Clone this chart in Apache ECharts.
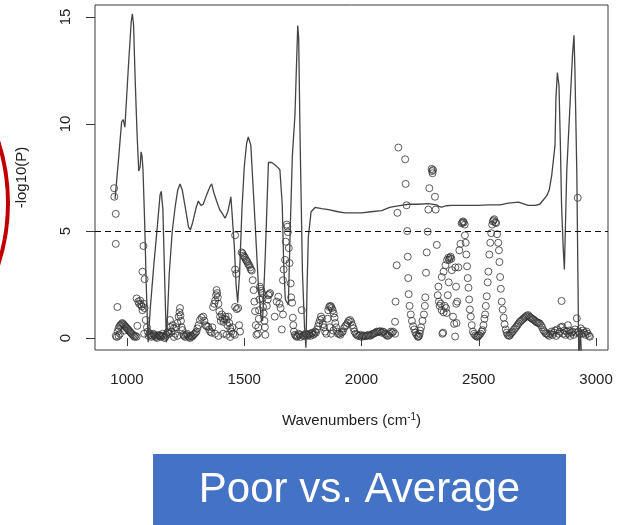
<!DOCTYPE html>
<html>
<head>
<meta charset="utf-8">
<script src="https://cdn.jsdelivr.net/npm/echarts@6/dist/echarts.min.js"></script>
<style>
html,body{margin:0;padding:0;background:#fff;}
#chart{width:618px;height:525px;}
</style>
</head>
<body>
<div id="chart"></div>
<script>
// -log10(P) curve (solid line)
const lineWavenumbers = [949,965,977,984,991,1006,1018,1023,1028,1035,1043,1050,1056,1060,1064,1068,1075,1082,1090,1100,1115,1130,1141,1146,1153,1160,1168,1180,1193,1205,1216,1226,1236,1250,1262,1270,1280,1295,1304,1315,1325,1340,1355,1361,1370,1382,1395,1410,1418,1430,1443,1450,1458,1465,1472,1480,1490,1500,1510,1517,1528,1538,1546,1560,1572,1578,1590,1603,1617,1630,1645,1652,1662,1668,1675,1688,1695,1705,1716,1722,1728,1732,1738,1748,1757,1763,1768,1773,1785,1802,1830,1859,1900,1930,1970,2001,2040,2086,2120,2143,2170,2200,2240,2285,2320,2330,2342,2360,2385,2440,2498,2540,2591,2626,2669,2711,2740,2760,2775,2790,2800,2811,2820,2825,2829,2835,2842,2848,2853,2860,2865,2869,2875,2889,2900,2906,2910,2918,2927,2933,2940];
const lineLogP = [6.5,8.5,10.1,10.2,9.85,12.7,14.8,15.15,14.6,12.0,9.5,7.8,8.0,8.7,8.5,7.9,5.5,2.5,-0.2,1.5,3.5,5.3,6.7,6.85,6.0,3.0,-0.2,3.0,5.0,6.1,6.9,7.2,6.9,6.0,5.2,5.05,5.4,6.1,6.4,6.2,6.25,6.7,7.1,7.2,6.8,6.4,6.0,5.75,5.6,5.9,6.6,5.5,4.2,2.5,1.65,3.0,6.0,8.0,9.1,9.4,9.0,7.0,5.4,2.5,0.9,0.8,4.0,8.2,8.2,8.1,7.95,7.85,6.2,3.5,1.8,1.55,4.7,8.5,10.4,12.5,14.6,14.0,9.35,3.1,0.5,-0.45,2.5,4.7,5.9,6.1,6.05,6.0,5.9,5.85,5.85,5.85,5.9,5.95,6.1,6.15,6.2,6.25,6.25,6.28,6.22,6.15,6.12,6.18,6.2,6.2,6.2,6.22,6.22,6.3,6.35,6.2,6.2,6.25,6.45,6.65,6.9,7.6,8.5,9.0,11.2,12.4,11.8,9.0,6.2,4.2,3.2,5.0,7.75,10.9,13.3,14.15,12.5,7.75,-1.5,0.5,-1.5];

// open-circle points, grouped by wavenumber range
const pointsA = [[945,7.0],[946,6.6],[952,5.8],[952,4.4],[959,1.45],
[952,0.1],[956,0.05],[960,0.3],[964,0.45],[968,0.55],[972,0.6],[976,0.65],[980,0.7],[984,0.65],[988,0.6],[992,0.55],[996,0.5],[1000,0.45],[1004,0.4],[1008,0.35],[1012,0.3],[1016,0.25],[1020,0.2],[1024,0.15],[1028,0.1],[1032,0.05],[1036,0.1],[964,0.1],[970,0.2],[990,0.35],
[1041,0.06],[1044,0.57],[1041,1.85],[1048,1.7],[1052,1.6],[1056,1.75],[1060,1.55],[1063,1.47],[1066,1.3],[1070,1.6],[1075,1.4],[1070,4.3],[1066,3.1],[1075,2.75],[1080,0.84],[1085,0.5],[1089,0.3],[1073,0.2],
[1092,0.1],[1096,0.2],[1100,0.15],[1104,0.05],[1108,0.1],[1112,0.2],[1116,0.15],[1120,0.1],[1124,0.05],[1128,0.0],[1132,0.1],[1136,0.15],[1140,0.1],[1144,0.05],[1148,0.1],[1152,0.2],[1156,0.1],[1160,0.0],[1164,0.05],[1168,0.15],[1172,0.25],[1176,0.3],[1180,0.2],
[1183,0.84],[1185,0.5],[1190,0.3],[1195,0.6],[1200,0.45],[1205,0.2],[1210,0.5],[1215,0.7],[1220,1.0],[1224,1.2],[1226,1.4],[1228,1.05],[1230,0.8],[1233,0.5],[1236,0.37],[1240,0.15],[1200,0.05],[1215,0.1]];
const pointsB = [[1244,0.1],[1248,0.05],[1252,0.15],[1256,0.2],[1260,0.1],[1264,0.05],[1268,0.0],[1272,0.1],[1276,0.05],[1280,0.1],[1284,0.15],[1288,0.2],[1292,0.25],[1296,0.3],[1300,0.45],[1305,0.6],[1311,0.84],[1318,0.95],[1325,1.0],[1330,0.8],[1335,0.6],[1340,0.55],[1346,0.53],[1350,0.4],[1355,0.3],[1360,0.25],[1364,0.5],[1367,1.45],[1372,1.6],[1376,1.75],[1380,2.0],[1382,2.24],[1384,2.1],[1387,1.9],[1390,1.6],[1394,1.25],[1397,1.0],[1400,0.8],[1404,1.1],[1408,0.9],[1412,0.75],[1416,0.9],[1420,1.0],[1424,0.85],[1428,0.6],[1432,1.0],[1436,0.7],[1440,0.45],[1445,0.3],[1449,0.5],[1453,0.2],[1460,0.15],[1375,0.2],[1390,0.1],[1410,0.2],[1425,0.15],[1440,0.05],
[1461,4.8],[1461,3.2],[1466,3.0],[1461,1.45],[1468,1.35],[1474,1.4],[1478,0.6],[1482,0.3],
[1489,4.0],[1493,3.95],[1496,3.85],[1500,3.8],[1503,3.75],[1507,3.65],[1510,3.6],[1514,3.55],[1517,3.45],[1521,3.4],[1525,3.3],[1528,3.2],[1532,3.15],[1536,2.7],[1540,2.24],[1543,1.7],[1546,1.25],[1549,0.6],[1552,0.15],
[1558,0.2],[1560,0.5],[1562,0.9],[1563,1.3],[1565,1.8],[1567,2.4],[1570,2.3],[1573,2.2],[1576,2.1],[1578,1.85],[1580,1.45],[1583,1.15],[1586,0.8],[1588,0.5],[1590,0.15],[1596,1.5],[1600,1.8],[1603,2.0],[1607,2.05],[1610,2.1],
[1630,1.0],[1638,1.7],[1645,1.93],[1650,1.6],[1655,1.4],[1660,0.4],[1665,1.1],
[1665,2.7],[1668,3.2],[1674,3.65],[1677,4.5],[1681,5.3],[1684,5.2],[1686,4.95],[1690,4.2],[1693,3.5],[1698,2.55],[1700,1.9],[1704,1.65],[1707,0.95],[1709,0.6],[1712,0.3],[1745,1.3],
[1716,0.15],[1720,0.1],[1724,0.05],[1728,0.1],[1732,0.2],[1736,0.15],[1740,0.05],[1750,0.1]];
const pointsC = [[1754,0.15],[1758,0.1],[1762,0.2],[1766,0.15],[1770,0.1],[1774,0.15],[1778,0.2],[1782,0.1],[1786,0.2],[1790,0.25],[1794,0.15],[1798,0.2],[1802,0.3],[1806,0.25],[1810,0.4],[1815,0.55],[1819,0.7],[1823,0.84],[1827,1.0],[1831,0.9],[1835,0.65],[1840,0.5],[1845,0.3],[1850,0.2],[1855,0.9],[1858,1.3],[1862,1.45],[1866,1.5],[1870,1.47],[1873,1.4],[1877,1.3],[1881,1.15],[1885,0.95],[1888,0.7],[1892,0.5],[1896,0.3],[1900,0.2],[1865,0.5],[1870,0.2],[1880,0.35],
[1905,0.2],[1910,0.15],[1915,0.25],[1920,0.3],[1925,0.45],[1930,0.55],[1935,0.6],[1940,0.7],[1945,0.8],[1951,0.84],[1956,0.75],[1961,0.6],[1966,0.45],[1970,0.3],[1975,0.2],[1980,0.15],[1985,0.1],
[1990,0.1],[1995,0.15],[2000,0.05],[2005,0.1],[2010,0.12],[2015,0.08],[2020,0.1],[2025,0.12],[2030,0.15],[2035,0.1],[2040,0.12],[2045,0.18],[2050,0.2],[2055,0.22],[2060,0.25],[2065,0.3],[2070,0.28],[2075,0.3],[2080,0.32],[2085,0.25],[2090,0.3],[2095,0.28],[2100,0.2],[2105,0.15],[2110,0.1],[2115,0.12],[2120,0.2],[2125,0.3],[2130,0.25],[2135,0.3]];
const pointsD = [[2143,0.2],[2143,0.76],[2145,1.7],[2150,3.4],[2153,5.85],[2157,8.9],[2186,8.35],[2188,7.2],[2192,6.2],[2195,5.0],[2197,3.8],[2199,2.8],[2201,2.05],[2205,1.5],[2210,1.1],[2215,0.8],[2220,0.55],[2225,0.4],[2230,0.25],[2235,0.15],[2240,0.08],[2242,0.05],[2245,0.1],[2248,0.2],[2250,0.35],[2254,0.5],[2260,0.8],[2266,1.1],[2270,1.5],[2272,1.9],[2275,3.05],[2278,4.0],[2282,4.97],[2285,6.0],[2289,7.0],[2299,7.9],[2301,7.8],[2303,7.7],[2305,7.85],[2313,6.6],[2316,6.0],
[2321,4.35],[2325,2.0],[2328,2.4],[2330,1.7],[2333,1.5],[2338,1.6],[2342,1.3],[2345,0.2],[2348,0.25],[2350,1.2],[2355,1.5],[2360,1.4],[2363,1.17],[2368,2.0],[2372,2.6],[2342,2.85],[2350,3.1],[2358,3.4],[2365,3.65],[2370,3.75],[2374,3.65],[2377,3.74],[2380,3.8],[2383,3.7],[2385,3.17],[2390,1.0],[2395,0.66],[2399,0.07],[2400,3.3],[2403,2.4],[2404,1.6],[2405,0.7],[2408,1.7],[2413,3.3],[2417,4.1],[2422,4.4],[2427,5.36],[2430,5.4],[2433,5.45],[2436,5.4],[2440,5.3],
[2441,4.8],[2444,4.45],[2447,3.9],[2450,3.35],[2453,2.8],[2456,2.35],[2459,1.8],[2462,1.33],[2466,1.0],[2470,0.6],[2475,0.3],[2480,0.2],[2485,0.12],[2490,0.08],[2495,0.05],[2498,0.1],[2502,0.14],[2507,0.2],[2512,0.3],[2516,0.37],[2520,0.6],[2524,0.9],[2527,1.1],[2530,1.5],[2534,1.95],[2538,2.6],[2541,3.1],[2545,3.9],[2549,4.45],[2553,4.9],[2557,5.3],[2560,5.45],[2563,5.5],[2566,5.55],[2570,5.4],[2574,5.37],[2578,4.85],[2583,4.45],[2586,4.1],[2588,3.55],[2591,2.85],[2594,2.3],[2598,1.7],[2602,1.33],[2606,0.95],[2610,0.64],[2615,0.4],[2619,0.25]];
const pointsE = [[2623,0.15],[2628,0.1],[2632,0.12],[2636,0.2],[2640,0.25],[2645,0.3],[2650,0.4],[2655,0.45],[2660,0.53],[2665,0.6],[2670,0.68],[2675,0.76],[2680,0.8],[2685,0.85],[2690,0.9],[2695,0.95],[2700,1.0],[2705,1.05],[2711,1.07],[2716,1.0],[2720,0.95],[2725,0.92],[2730,0.88],[2735,0.85],[2740,0.8],[2745,0.75],[2750,0.72],[2755,0.7],[2760,0.68],[2765,0.6],[2770,0.5],[2775,0.37],[2780,0.3],[2785,0.22],[2790,0.2],[2795,0.15],[2800,0.1],[2805,0.2],[2810,0.3],[2815,0.15],[2820,0.25],[2825,0.35],[2830,0.1],[2835,0.4],[2840,0.2],[2845,0.3],[2850,0.5],[2853,1.73],[2856,0.53],[2860,0.2],[2865,0.35],[2870,0.15],[2875,0.3],[2880,0.6],[2882,0.2],[2886,0.35],[2890,0.1],[2895,0.25],[2900,0.3],[2905,0.15],[2910,0.4],[2914,0.25],[2918,0.92],[2922,6.55],[2925,0.3],[2930,0.2],[2935,0.45],[2940,0.2],[2945,0.35],[2950,0.25],[2955,0.15],[2960,0.3],[2965,0.2],[2970,0.1],[2974,0.06]];

const xTicks = [1000,1500,2000,2500,3000];
const yTicks = [0,5,10,15];
const thresholdLogP = 5;
const panelTitle = 'Poor vs. Average';

const FONT = '"Liberation Sans", Arial, sans-serif';
const chart = echarts.init(document.getElementById('chart'), null, {renderer:'canvas'});
const lineData = lineWavenumbers.map((w,i)=>[w,lineLogP[i]]);
const allPoints = pointsA.concat(pointsB, pointsC, pointsD, pointsE);

chart.setOption({
  animation:false,
  backgroundColor:'#ffffff',
  grid:{left:95,right:10,top:5,bottom:175,show:true,borderColor:'#3a3a3a',borderWidth:1,backgroundColor:'transparent'},
  xAxis:{
    type:'value', min:863.5, max:3051,
    splitLine:{show:false},
    axisLine:{show:false},
    axisTick:{show:true,inside:false,length:8,customValues:xTicks,lineStyle:{color:'#3a3a3a',width:1}},
    axisLabel:{show:true,customValues:xTicks,margin:22,color:'#222',fontFamily:FONT,fontSize:15,formatter:(v)=>String(v)},
    name:'{a|Wavenumbers (cm}{s|-1}{a|)}',
    nameLocation:'middle', nameGap:62,
    nameTextStyle:{rich:{a:{fontFamily:FONT,fontSize:15,color:'#222',lineHeight:18},s:{fontFamily:FONT,fontSize:10,color:'#222',verticalAlign:'top',lineHeight:18,padding:[0,0,10,0]}}}
  },
  yAxis:{
    type:'value', min:-0.56, max:15.56,
    splitLine:{show:false},
    axisLine:{show:false},
    axisTick:{show:true,inside:false,length:9,customValues:yTicks,lineStyle:{color:'#3a3a3a',width:1}},
    axisLabel:{show:true,customValues:yTicks,rotate:90,margin:22,color:'#222',fontFamily:FONT,fontSize:15,formatter:(v)=>String(v)},
    name:'-log10(P)', nameLocation:'middle', nameGap:66, nameRotate:90,
    nameTextStyle:{fontFamily:FONT,fontSize:15,color:'#222'}
  },
  series:[
    {
      type:'scatter', data:allPoints, symbol:'circle', symbolSize:7,
      itemStyle:{color:'rgba(0,0,0,0)',borderColor:'#333',borderWidth:1},
      z:2
    },
    {
      type:'line', data:lineData, showSymbol:false, symbol:'none', clip:true,
      lineStyle:{color:'#444',width:1.3},
      z:3,
      markLine:{
        silent:true, symbol:['none','none'], label:{show:false},
        lineStyle:{color:'#111',type:[6,4],width:1},
        data:[{yAxis:thresholdLogP}]
      }
    }
  ],
  graphic:[
    {type:'circle', shape:{cx:-192, cy:203, r:200}, style:{fill:'none', stroke:'#C00000', lineWidth:4}, z:10},
    {type:'rect', shape:{x:153, y:454, width:413, height:80}, style:{fill:'#4472C4'}, z:10},
    {type:'text', x:359.5, y:490, style:{text:panelTitle, fill:'#ffffff', font:'42px '+FONT, textAlign:'center', textVerticalAlign:'middle'}, z:11}
  ]
});
</script>
</body>
</html>
